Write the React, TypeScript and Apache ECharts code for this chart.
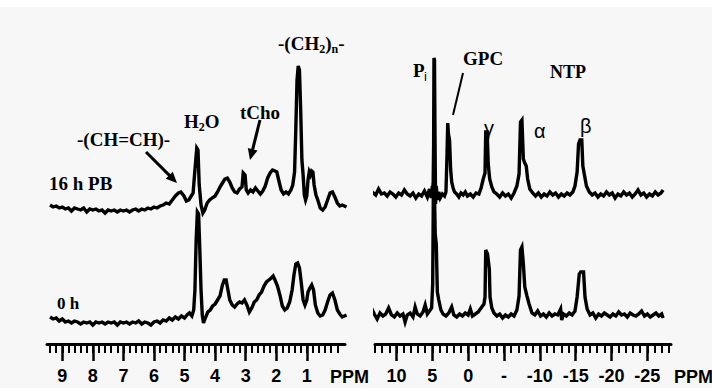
import React, { useEffect, useRef } from "react";
import * as echarts from "echarts";

// ---- 1H spectra (left panel): [ppm, intensity] ----
const protonPB16h: number[][] = [
  [9.4, 139], [9.3, 137], [9.2, 138], [9.1, 136], [9.0, 137], [8.9, 135], [8.8, 136], [8.7, 133], [8.6, 136], [8.5, 135],
  [8.4, 134], [8.3, 136], [8.2, 132], [8.1, 135], [8.0, 134], [7.9, 135], [7.8, 133], [7.7, 134], [7.6, 131], [7.5, 134],
  [7.4, 133], [7.3, 134], [7.2, 132], [7.1, 134], [7.0, 133], [6.9, 134], [6.8, 132], [6.7, 134], [6.6, 135], [6.5, 133],
  [6.4, 135], [6.3, 134], [6.2, 136], [6.1, 135], [6.0, 137], [5.9, 136], [5.8, 138], [5.7, 139], [5.6, 141], [5.5, 140],
  [5.4, 144], [5.3, 148], [5.2, 151], [5.12, 152], [5.02, 148], [4.94, 143], [4.86, 144], [4.78, 148], [4.72, 151], [4.66, 174],
  [4.6, 196], [4.56, 194], [4.52, 159], [4.46, 139], [4.4, 131], [4.34, 134], [4.26, 141], [4.18, 144], [4.1, 146], [4.0, 148],
  [3.92, 152], [3.84, 157], [3.76, 161], [3.68, 165], [3.6, 166], [3.52, 162], [3.44, 156], [3.36, 152], [3.28, 151], [3.2, 155],
  [3.12, 157], [3.08, 171], [3.02, 169], [2.98, 154], [2.92, 151], [2.84, 154], [2.76, 152], [2.68, 156], [2.6, 153], [2.52, 150],
  [2.44, 153], [2.36, 158], [2.28, 166], [2.2, 171], [2.12, 174], [2.04, 173], [1.98, 172], [1.92, 164], [1.84, 154], [1.76, 150],
  [1.68, 152], [1.6, 150], [1.52, 154], [1.46, 159], [1.4, 172], [1.36, 214], [1.32, 264], [1.28, 278], [1.24, 274], [1.2, 234],
  [1.16, 184], [1.12, 169], [1.08, 149], [1.04, 144], [1.0, 148], [0.96, 164], [0.92, 172], [0.88, 169], [0.84, 173], [0.8, 172],
  [0.76, 159], [0.7, 149], [0.64, 144], [0.56, 136], [0.48, 134], [0.4, 137], [0.32, 144], [0.24, 151], [0.16, 152], [0.08, 147],
  [0.0, 141], [-0.08, 138], [-0.16, 139], [-0.3, 137],
];

const proton0h: number[][] = [
  [9.4, 27], [9.3, 25], [9.2, 26], [9.1, 23], [9.0, 25], [8.9, 22], [8.8, 23], [8.7, 21], [8.6, 23], [8.5, 22],
  [8.4, 20], [8.3, 22], [8.2, 21], [8.1, 22], [8.0, 19], [7.9, 22], [7.8, 21], [7.7, 22], [7.6, 20], [7.5, 22],
  [7.4, 21], [7.3, 22], [7.2, 19], [7.1, 22], [7.0, 21], [6.9, 22], [6.8, 20], [6.7, 22], [6.6, 21], [6.5, 23],
  [6.4, 20], [6.3, 22], [6.2, 21], [6.1, 19], [6.0, 22], [5.9, 23], [5.8, 21], [5.7, 24], [5.6, 23], [5.5, 26],
  [5.4, 24], [5.3, 27], [5.2, 25], [5.1, 28], [5.0, 26], [4.92, 29], [4.84, 31], [4.76, 28], [4.7, 34], [4.66, 54],
  [4.62, 104], [4.58, 132], [4.54, 130], [4.5, 94], [4.46, 54], [4.42, 29], [4.38, 21], [4.32, 26], [4.24, 32], [4.16, 34],
  [4.08, 38], [4.0, 40], [3.92, 44], [3.84, 48], [3.76, 59], [3.7, 64], [3.64, 64], [3.58, 54], [3.52, 44], [3.44, 39],
  [3.36, 37], [3.28, 40], [3.2, 42], [3.12, 41], [3.04, 44], [2.96, 39], [2.88, 32], [2.8, 36], [2.72, 42], [2.64, 44],
  [2.56, 49], [2.48, 52], [2.4, 58], [2.32, 62], [2.24, 64], [2.16, 66], [2.1, 68], [2.04, 64], [1.96, 58], [1.88, 49],
  [1.8, 38], [1.72, 34], [1.64, 36], [1.56, 42], [1.48, 54], [1.42, 69], [1.36, 80], [1.3, 81], [1.24, 76], [1.18, 61],
  [1.12, 44], [1.06, 39], [1.0, 44], [0.96, 52], [0.9, 56], [0.84, 59], [0.78, 54], [0.72, 39], [0.64, 31], [0.56, 28],
  [0.48, 29], [0.4, 34], [0.32, 42], [0.24, 49], [0.16, 51], [0.08, 44], [0.0, 34], [-0.08, 30], [-0.16, 27], [-0.3, 29],
];

// ---- 31P spectra (right panel): [ppm, intensity] ----
const phosphorusPB16h: number[][] = [
  [14.4, 150], [13.9, 147], [13.4, 152], [12.9, 149], [12.5, 155], [12.1, 150], [11.7, 151], [11.3, 148], [10.9, 152], [10.5, 150],
  [10.1, 147], [9.7, 151], [9.3, 149], [8.9, 154], [8.5, 150], [8.1, 148], [7.7, 151], [7.3, 146], [6.9, 150], [6.5, 148],
  [6.1, 153], [5.7, 147], [5.4, 155], [5.15, 146], [5.0, 158], [4.9, 150], [4.82, 200], [4.77, 286], [4.7, 284], [4.62, 200],
  [4.55, 140], [4.45, 158], [4.3, 144], [4.1, 152], [3.9, 146], [3.6, 150], [3.3, 148], [3.1, 152], [2.95, 190], [2.85, 221],
  [2.75, 210], [2.6, 204], [2.45, 175], [2.3, 162], [2.1, 156], [1.9, 152], [1.6, 150], [1.3, 147], [1.0, 151], [0.7, 149],
  [0.4, 152], [0.1, 148], [-0.3, 150], [-0.7, 147], [-1.1, 151], [-1.5, 150], [-1.8, 156], [-2.1, 165], [-2.35, 171], [-2.45, 212],
  [-2.65, 212], [-2.8, 180], [-3.0, 165], [-3.3, 157], [-3.6, 152], [-4.0, 150], [-4.4, 147], [-4.8, 151], [-5.2, 148], [-5.6, 150],
  [-6.0, 146], [-6.4, 151], [-6.8, 158], [-7.1, 170], [-7.3, 222], [-7.5, 224], [-7.7, 185], [-7.9, 181], [-8.1, 178], [-8.3, 165],
  [-8.6, 155], [-9.0, 151], [-9.4, 148], [-9.8, 151], [-10.2, 147], [-10.6, 150], [-11.0, 148], [-11.4, 152], [-11.8, 149], [-12.2, 151],
  [-12.6, 147], [-13.0, 150], [-13.4, 148], [-13.8, 151], [-14.2, 149], [-14.6, 152], [-14.9, 158], [-15.2, 172], [-15.4, 200], [-15.6, 204],
  [-15.85, 204], [-16.0, 178], [-16.2, 170], [-16.5, 158], [-16.9, 152], [-17.3, 149], [-17.7, 151], [-18.1, 147], [-18.5, 150], [-18.9, 148],
  [-19.3, 152], [-19.7, 149], [-20.1, 151], [-20.5, 146], [-20.9, 150], [-21.3, 148], [-21.7, 152], [-22.1, 149], [-22.5, 151], [-22.9, 147],
  [-23.3, 150], [-23.7, 154], [-24.1, 149], [-24.5, 151], [-24.9, 147], [-25.3, 150], [-25.7, 148], [-26.1, 152], [-26.5, 149], [-26.9, 151],
  [-27.2, 154],
];

const phosphorus0h: number[][] = [
  [14.4, 29], [14.0, 26], [13.5, 36], [13.1, 30], [12.7, 25], [12.3, 31], [11.9, 28], [11.5, 30], [11.1, 36], [10.7, 29],
  [10.3, 27], [9.9, 31], [9.5, 28], [9.1, 30], [8.8, 22], [8.5, 29], [8.1, 31], [7.7, 27], [7.4, 37], [7.1, 30],
  [6.7, 28], [6.3, 32], [6.0, 39], [5.7, 30], [5.4, 33], [5.1, 36], [4.95, 60], [4.85, 159], [4.72, 159], [4.6, 110],
  [4.45, 100], [4.3, 52], [4.1, 44], [3.8, 34], [3.5, 30], [3.1, 28], [2.7, 31], [2.3, 37], [2.0, 29], [1.6, 27],
  [1.2, 30], [0.8, 28], [0.4, 31], [0.0, 29], [-0.3, 35], [-0.6, 28], [-1.0, 30], [-1.4, 32], [-1.8, 36], [-2.2, 40],
  [-2.35, 47], [-2.45, 94], [-2.7, 90], [-2.95, 75], [-3.05, 47], [-3.3, 36], [-3.6, 31], [-4.0, 28], [-4.4, 30], [-4.8, 26],
  [-5.2, 29], [-5.6, 27], [-6.0, 30], [-6.4, 28], [-6.8, 34], [-7.1, 48], [-7.3, 94], [-7.5, 97], [-7.7, 80], [-7.9, 57],
  [-8.2, 48], [-8.5, 40], [-8.9, 31], [-9.3, 29], [-9.7, 33], [-10.1, 28], [-10.5, 30], [-10.9, 27], [-11.3, 31], [-11.7, 28],
  [-12.1, 30], [-12.5, 29], [-12.9, 35], [-13.05, 24], [-13.3, 30], [-13.7, 28], [-14.1, 31], [-14.5, 29], [-14.9, 33], [-15.2, 47],
  [-15.5, 70], [-15.7, 72], [-16.1, 72], [-16.3, 47], [-16.6, 35], [-17.0, 29], [-17.4, 31], [-17.8, 26], [-18.2, 30], [-18.6, 28],
  [-19.0, 31], [-19.4, 29], [-19.8, 27], [-20.2, 30], [-20.6, 28], [-21.0, 32], [-21.4, 29], [-21.8, 30], [-22.2, 27], [-22.6, 31],
  [-23.0, 29], [-23.4, 28], [-23.8, 30], [-24.2, 33], [-24.6, 28], [-25.0, 30], [-25.4, 27], [-25.8, 29], [-26.2, 31], [-26.6, 28],
  [-27.0, 30], [-27.2, 26],
];

// ---- tick labels ----
const leftLabels = [9, 8, 7, 6, 5, 4, 3, 2, 1];
const rightLabels = [10, 5, 0, -5, -10, -15, -20, -25];

const leftMinor: number[] = [];
for (let i = 0; i <= 47; i++) leftMinor.push(Math.round(i * 2) / 10);
const rightMinor: number[] = [];
for (let v = -28; v <= 13; v++) rightMinor.push(v);

const SANS = '"Liberation Sans", Arial, sans-serif';
const SERIF = '"Liberation Serif", "Times New Roman", serif';

function majorAxis(gridIndex: number, min: number, max: number, labels: number[], fmt: (v: number) => string) {
  return {
    type: "value",
    gridIndex,
    min,
    max,
    inverse: true,
    position: "bottom",
    axisLine: { show: true, lineStyle: { color: "#000", width: 3 } },
    axisTick: { show: true, customValues: labels, length: 17, lineStyle: { color: "#000", width: 2.5 } },
    axisLabel: {
      show: true,
      customValues: labels,
      margin: 23,
      color: "#000",
      fontSize: 18,
      fontWeight: "bold",
      fontFamily: SANS,
      formatter: (v: number) => fmt(v),
    },
    splitLine: { show: false },
  };
}

function minorAxis(gridIndex: number, min: number, max: number, ticks: number[]) {
  return {
    type: "value",
    gridIndex,
    min,
    max,
    inverse: true,
    position: "bottom",
    axisLine: { show: false },
    axisTick: { show: true, customValues: ticks, length: 9, lineStyle: { color: "#000", width: 2 } },
    axisLabel: { show: false },
    splitLine: { show: false },
  };
}

function trace(xAxisIndex: number, yAxisIndex: number, name: string, data: number[][]) {
  return {
    type: "line",
    name,
    xAxisIndex,
    yAxisIndex,
    data,
    showSymbol: false,
    symbol: "none",
    clip: false,
    lineStyle: { color: "#000", width: 3.4, join: "miter" },
    silent: true,
  };
}

function txt(x: number, y: number, text: string, size: number, family: string, weight: string = "bold") {
  return {
    type: "text",
    x,
    y,
    style: {
      text,
      fontSize: size,
      fontWeight: weight,
      fontFamily: family,
      fill: "#000",
      align: "left",
      verticalAlign: "middle",
      textAlign: "left",
      textVerticalAlign: "middle",
    },
  };
}

function richTxt(x: number, y: number, parts: string, size: number) {
  return {
    type: "text",
    x,
    y,
    style: {
      text: parts,
      fill: "#000",
      align: "left",
      verticalAlign: "middle",
      textAlign: "left",
      textVerticalAlign: "middle",
      rich: {
        a: { fontSize: size, fontWeight: "bold", fontFamily: SERIF, fill: "#000", lineHeight: 24, verticalAlign: "middle" },
        s: { fontSize: 12, fontWeight: "bold", fontFamily: SERIF, fill: "#000", lineHeight: 24, verticalAlign: "bottom" },
      },
    },
  };
}

function arrow(x1: number, y1: number, x2: number, y2: number) {
  const dx = x2 - x1;
  const dy = y2 - y1;
  const len = Math.sqrt(dx * dx + dy * dy);
  const ux = dx / len;
  const uy = dy / len;
  const hl = 11;
  const hw = 5;
  const bx = x2 - ux * hl;
  const by = y2 - uy * hl;
  return [
    { type: "line", shape: { x1, y1, x2: bx + ux * 2, y2: by + uy * 2 }, style: { stroke: "#000", lineWidth: 3 } },
    {
      type: "polygon",
      shape: { points: [[x2, y2], [bx - uy * hw, by + ux * hw], [bx + uy * hw, by - ux * hw]] },
      style: { fill: "#000" },
    },
  ];
}

export default function App() {
  const ref = useRef<HTMLDivElement>(null);
  useEffect(() => {
    if (!ref.current) return;
    const chart = echarts.init(ref.current, null, { renderer: "svg" });
    chart.setOption({
      animation: false,
      backgroundColor: "#f7f7f7",
      grid: [
        { left: 47, top: 44, width: 298, height: 300 },
        { left: 375, top: 44, width: 296, height: 300 },
      ],
      xAxis: [
        majorAxis(0, -0.25, 9.5, leftLabels, (v) => String(v)),
        minorAxis(0, -0.25, 9.5, leftMinor),
        majorAxis(1, -28.3, 13, rightLabels, (v) => (v === -5 ? "-" : String(v))),
        minorAxis(1, -28.3, 13, rightMinor),
      ],
      yAxis: [
        { type: "value", gridIndex: 0, min: 0, max: 300, show: false },
        { type: "value", gridIndex: 1, min: 0, max: 300, show: false },
      ],
      series: [
        trace(0, 0, "1H 16 h PB", protonPB16h),
        trace(0, 0, "1H 0 h", proton0h),
        trace(2, 1, "31P 16 h PB", phosphorusPB16h),
        trace(2, 1, "31P 0 h", phosphorus0h),
      ],
      graphic: [
        { type: "rect", shape: { x: 0, y: 0, width: 712, height: 7 }, style: { fill: "#ffffff" } },
        txt(330, 377, "PPM", 18, SANS),
        txt(674, 377, "PPM", 18, SANS),
        txt(77, 139, "-(CH=CH)-", 19, SERIF),
        richTxt(184, 121, "{a|H}{s|2}{a|O}", 19),
        txt(240, 112, "tCho", 19, SERIF),
        richTxt(278, 43, "{a|-(CH}{s|2}{a|)}{s|n}{a|-}", 19),
        txt(49, 183, "16 h PB", 19, SERIF),
        txt(57, 303, "0 h", 17, SERIF),
        txt(413, 70, "P", 19, SERIF),
        txt(424, 76, "i", 13, SANS, "normal"),
        txt(463, 58, "GPC", 19, SERIF),
        txt(550, 72, "NTP", 18, SERIF),
        txt(484, 128, "γ", 20, SANS, "normal"),
        txt(534, 131, "α", 20, SANS, "normal"),
        txt(580, 126, "β", 20, SANS, "normal"),
        ...arrow(146, 152, 177, 183),
        ...arrow(260, 120, 250, 160),
        { type: "line", shape: { x1: 463, y1: 73, x2: 453, y2: 115 }, style: { stroke: "#000", lineWidth: 2 } },
      ],
    });
    return () => chart.dispose();
  }, []);
  return <div ref={ref} style={{ position: "absolute", left: 0, top: 0, width: 712, height: 388 }} />;
}
